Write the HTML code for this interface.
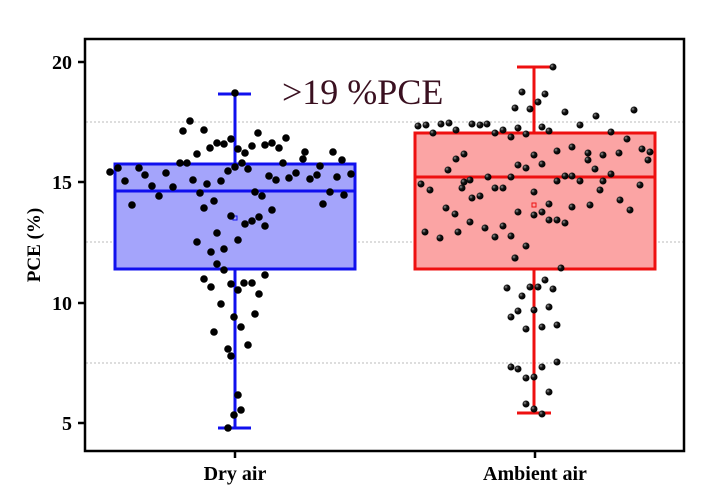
<!DOCTYPE html>
<html><head><meta charset="utf-8"><style>
html,body{margin:0;padding:0;background:#fff;width:711px;height:495px;overflow:hidden}
</style></head><body>
<svg id="s" width="711" height="495" xmlns="http://www.w3.org/2000/svg" font-family="Liberation Serif, serif">
<defs>
<radialGradient id="g" cx="0.35" cy="0.35" r="0.7"><stop offset="0" stop-color="#999"/><stop offset="0.4" stop-color="#111"/><stop offset="1" stop-color="#000"/></radialGradient>
</defs>
<g stroke="#bbb" stroke-width="1" stroke-dasharray="2,2">
<line x1="86" x2="684" y1="122" y2="122"/>
<line x1="86" x2="684" y1="242" y2="242"/>
<line x1="86" x2="684" y1="363" y2="363"/>
</g>
<rect x="115" y="164" width="240" height="105" fill="#a4a4fb" stroke="#1010ee" stroke-width="3"/>
<line x1="115" x2="355" y1="191" y2="191" stroke="#1010ee" stroke-width="3"/>
<line x1="235" x2="235" y1="94" y2="164" stroke="#1010ee" stroke-width="3"/>
<line x1="235" x2="235" y1="269" y2="428" stroke="#1010ee" stroke-width="3"/>
<line x1="218" x2="251" y1="94" y2="94" stroke="#1010ee" stroke-width="3"/>
<line x1="218" x2="251" y1="428" y2="428" stroke="#1010ee" stroke-width="3"/>
<rect x="415" y="133" width="240" height="136" fill="#fba4a4" stroke="#ee1010" stroke-width="3"/>
<line x1="415" x2="655" y1="177" y2="177" stroke="#ee1010" stroke-width="3"/>
<line x1="534" x2="534" y1="67" y2="133" stroke="#ee1010" stroke-width="3"/>
<line x1="534" x2="534" y1="269" y2="413" stroke="#ee1010" stroke-width="3"/>
<line x1="517" x2="551" y1="67" y2="67" stroke="#ee1010" stroke-width="3"/>
<line x1="517" x2="551" y1="413" y2="413" stroke="#ee1010" stroke-width="3"/>
<rect x="532" y="203" width="4" height="4" fill="none" stroke="#ee1010" stroke-width="1"/>
<rect x="233" y="216" width="4" height="4" fill="none" stroke="#1010ee" stroke-width="1"/>
<g id="dots"></g>
<rect x="85" y="39" width="599" height="412" fill="none" stroke="#000" stroke-width="2.5"/>
<g stroke="#000" stroke-width="2.5">
<line x1="78" x2="85" y1="62" y2="62"/><line x1="78" x2="85" y1="182" y2="182"/>
<line x1="78" x2="85" y1="303" y2="303"/><line x1="78" x2="85" y1="423" y2="423"/>
<line x1="235" x2="235" y1="451" y2="458"/><line x1="535" x2="535" y1="451" y2="458"/>
</g>
<g font-size="20" font-weight="bold" text-anchor="end">
<text x="72" y="69">20</text><text x="72" y="189">15</text><text x="72" y="310">10</text><text x="72" y="430">5</text>
</g>
<g font-size="20" font-weight="bold" text-anchor="middle">
<text x="235" y="480">Dry air</text><text x="535" y="480">Ambient air</text>
<text transform="translate(40,245) rotate(-90)" font-size="19">PCE (%)</text>
</g>
<text x="282" y="104" font-size="36" fill="#3a1020">&gt;19 %PCE</text>
</svg>
<script>
var B=[[235,93],[183,131],[190,121],[204,130],[197,154],[210,148],[217,143],[224,144],[231,139],[238,149],[245,153],[252,146],[258,133],[265,145],[272,143],[279,148],[286,138],[283,163],[303,159],[180,163],[187,163],[242,163],[235,167],[228,171],[248,169],[118,168],[139,168],[125,181],[145,175],[152,186],[166,173],[173,187],[193,180],[207,184],[221,181],[269,176],[276,180],[289,178],[296,173],[310,179],[317,175],[337,177],[351,174],[132,205],[159,196],[200,193],[214,201],[204,208],[255,192],[262,196],[323,204],[330,192],[344,195],[231,216],[245,224],[252,221],[259,217],[265,226],[272,210],[217,233],[197,242],[238,240],[224,249],[211,252],[217,264],[224,270],[204,279],[211,287],[231,284],[238,290],[244,283],[252,283],[265,275],[259,294],[221,304],[255,314],[234,317],[241,327],[214,332],[248,345],[228,349],[231,356],[238,395],[241,410],[234,415],[228,428],[305,152],[320,166],[333,152],[342,160],[110,172]];
var R=[[553,67],[522,92],[545,94],[538,102],[515,108],[530,109],[565,112],[596,116],[634,110],[418,126],[426,125],[441,124],[449,123],[456,130],[433,133],[472,124],[480,125],[487,124],[495,133],[503,130],[511,137],[518,128],[526,134],[542,127],[549,131],[580,125],[611,132],[627,139],[642,149],[650,152],[572,147],[557,151],[534,155],[464,154],[456,159],[588,153],[588,160],[603,155],[619,153],[518,165],[526,168],[542,164],[595,169],[611,174],[565,176],[572,176],[488,177],[511,177],[464,182],[557,181],[580,181],[603,181],[495,188],[503,188],[534,192],[472,198],[480,196],[549,204],[572,207],[518,212],[534,215],[542,212],[549,220],[557,220],[565,223],[503,226],[495,237],[511,236],[526,246],[515,258],[561,268],[421,184],[430,190],[446,208],[455,214],[470,180],[462,188],[448,170],[425,232],[440,238],[458,232],[470,222],[485,228],[600,190],[620,200],[640,185],[648,160],[630,210],[590,205],
[515,258],[507,288],[530,287],[538,287],[545,280],[553,289],[522,296],[518,311],[511,317],[534,310],[549,307],[526,329],[542,327],[557,325],[511,367],[518,369],[542,367],[557,362],[526,378],[534,377],[549,392],[526,404],[534,409],[542,414]];
var h='';
B.forEach(function(p){h+='<circle cx="'+p[0]+'" cy="'+p[1]+'" r="3.8" fill="#000"/>';});
R.forEach(function(p){h+='<circle cx="'+p[0]+'" cy="'+p[1]+'" r="3.5" fill="url(#g)"/>';});
document.getElementById('dots').innerHTML=h;
</script>
</body></html>
